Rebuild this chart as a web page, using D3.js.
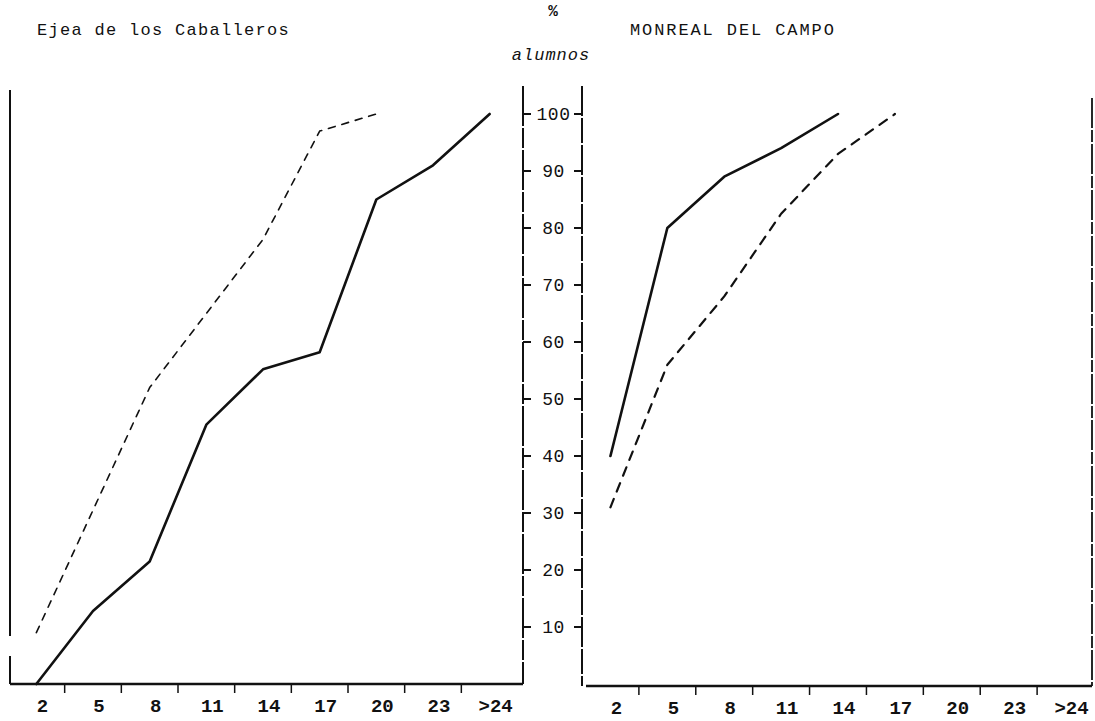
<!DOCTYPE html>
<html>
<head>
<meta charset="utf-8">
<script src="https://cdn.jsdelivr.net/npm/d3@7"></script>
<style>
  html, body { margin: 0; padding: 0; background: #fff; }
  svg { display: block; }
  text { font-family: "Liberation Mono", "DejaVu Sans Mono", monospace; fill: #111; }
</style>
</head>
<body>
<svg id="chart" width="1095" height="721"></svg>
<script>
// ---- data ----
const categories = ["2", "5", "8", "11", "14", "17", "20", "23", ">24"];
const ejeaSolid = [0, 12.8, 21.5, 45.5, 55.2, 58.2, 85, 91, 100];
const ejeaDashed = [9, 30.5, 52, 65, 78, 97, 100, null, null];
const monrealSolid = [40, 80, 89, 94, 100, null, null, null, null];
const monrealDashed = [31, 56, 68, 82.5, 93, 100, null, null, null];
const yTicks = [10, 20, 30, 40, 50, 60, 70, 80, 90, 100];
const titleLeft = "Ejea de los Caballeros";
const titleRight = "MONREAL DEL CAMPO";
const yUnit = "%";
const yLabel = "alumnos";

// ---- layout ----
const svg = d3.select("#chart");
const ink = "#111";
const baseY = 684;
const y = d3.scaleLinear().domain([0, 100]).range([baseY, 114]);
const xL = d3.scaleBand().domain(categories).range([8, 518]).padding(0);
const xR = d3.scaleBand().domain(categories).range([582, 1094]).padding(0);
const axisL = 523, axisR = 582;

// frames
const frame = svg.append("g").attr("stroke", ink).attr("fill", "none");
frame.append("line").attr("x1", 10).attr("x2", 10).attr("y1", 90).attr("y2", 636).attr("stroke-width", 2);
frame.append("line").attr("x1", 10).attr("x2", 10).attr("y1", 656).attr("y2", baseY).attr("stroke-width", 2);
frame.append("line").attr("x1", 10).attr("x2", axisL).attr("y1", baseY).attr("y2", baseY).attr("stroke-width", 2.5);
frame.append("line").attr("x1", axisL).attr("x2", axisL).attr("y1", 86).attr("y2", baseY).attr("stroke-width", 2).attr("stroke-dasharray", "40,2,20,2");
frame.append("line").attr("x1", axisR).attr("x2", axisR).attr("y1", 86).attr("y2", baseY + 2).attr("stroke-width", 2).attr("stroke-dasharray", "30,2,25,2");
frame.append("line").attr("x1", 586).attr("x2", 1092).attr("y1", baseY + 2).attr("y2", baseY + 2).attr("stroke-width", 2.5);
frame.append("line").attr("x1", 1092).attr("x2", 1092).attr("y1", 98).attr("y2", baseY + 2).attr("stroke-width", 1.8).attr("stroke-dasharray", "30,2,12,2");

// central y-axis ticks and labels
const yt = svg.append("g");
yt.selectAll("line.l").data(yTicks).join("line")
  .attr("x1", axisL).attr("x2", axisL + 8)
  .attr("y1", d => y(d)).attr("y2", d => y(d))
  .attr("stroke", ink).attr("stroke-width", 2);
yt.selectAll("line.r").data(yTicks).join("line")
  .attr("x1", axisR - 8).attr("x2", axisR)
  .attr("y1", d => y(d)).attr("y2", d => y(d))
  .attr("stroke", ink).attr("stroke-width", 2);
yt.selectAll("text").data(yTicks).join("text")
  .attr("x", (axisL + axisR) / 2 + 1).attr("y", d => y(d))
  .attr("dy", "0.36em").attr("text-anchor", "middle")
  .attr("font-size", 18).attr("letter-spacing", 0.5)
  .text(d => d);

// bottom axes
function bottomAxis(x, yy) {
  const g = svg.append("g");
  g.selectAll("line").data(categories.slice(1)).join("line")
    .attr("x1", d => x(d)).attr("x2", d => x(d))
    .attr("y1", yy).attr("y2", yy + 9)
    .attr("stroke", ink).attr("stroke-width", 1.5);
  g.selectAll("text").data(categories).join("text")
    .attr("x", d => x(d) + x.bandwidth() / 2 + 6)
    .attr("y", yy + 28)
    .attr("text-anchor", "middle")
    .attr("font-size", 19).attr("font-weight", "bold")
    .text(d => d);
}
bottomAxis(xL, baseY);
bottomAxis(xR, baseY + 2);

// lines
function drawSeries(x, vals, dashed, width, dash) {
  const pts = categories.map((c, i) => [c, vals[i]]);
  const line = d3.line()
    .defined(d => d[1] != null)
    .x(d => x(d[0]) + x.bandwidth() / 2)
    .y(d => y(d[1]));
  svg.append("path").datum(pts)
    .attr("d", line)
    .attr("fill", "none").attr("stroke", ink)
    .attr("stroke-width", width)
    .attr("stroke-linejoin", "round").attr("stroke-linecap", "round")
    .attr("stroke-dasharray", dashed ? dash : null);
}
drawSeries(xL, ejeaSolid, false, 2.6);
drawSeries(xL, ejeaDashed, true, 1.6, "7,7");
drawSeries(xR, monrealSolid, false, 2.6);
drawSeries(xR, monrealDashed, true, 2.2, "9,8");

// titles
svg.append("text").attr("x", 37).attr("y", 35)
  .attr("font-size", 17).attr("letter-spacing", 1.3).text(titleLeft);
svg.append("text").attr("x", 630).attr("y", 35)
  .attr("font-size", 17).attr("letter-spacing", 1.9).text(titleRight);
svg.append("text").attr("x", 553).attr("y", 16).attr("text-anchor", "middle")
  .attr("font-size", 16).attr("font-weight", "bold").text(yUnit);
svg.append("text").attr("x", 551).attr("y", 60).attr("text-anchor", "middle")
  .attr("font-size", 17).attr("font-style", "italic").attr("letter-spacing", 1).text(yLabel);
</script>
</body>
</html>
